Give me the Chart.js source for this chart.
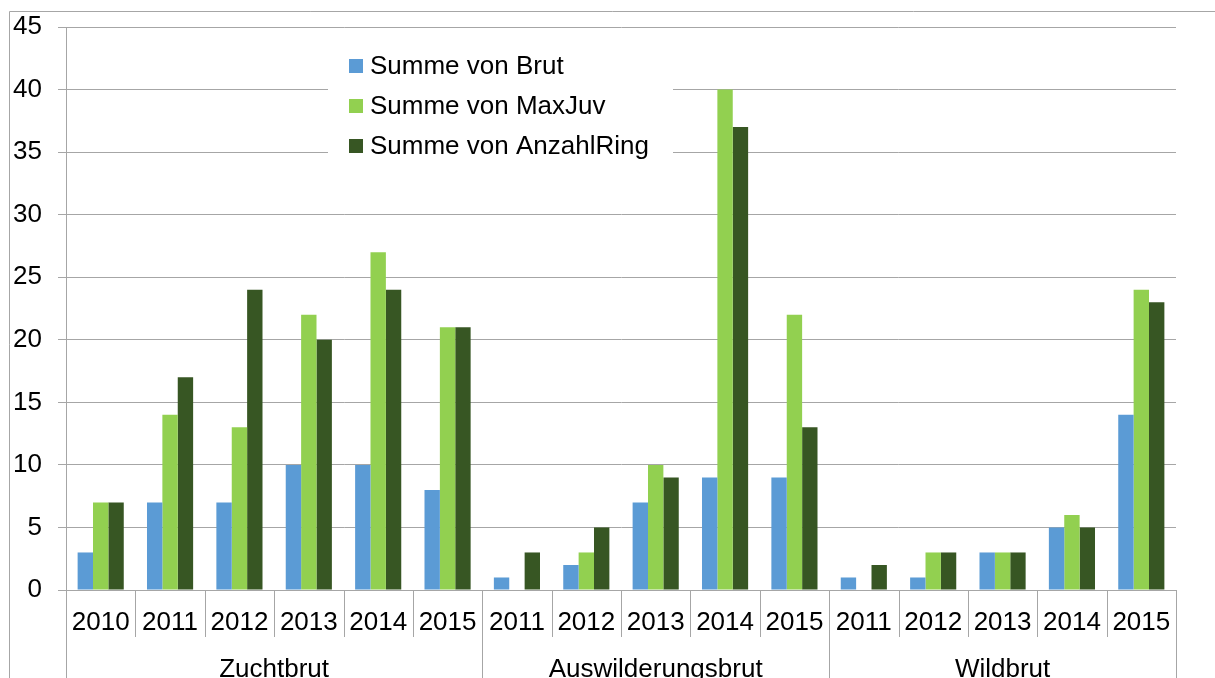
<!DOCTYPE html>
<html lang="de">
<head>
<meta charset="UTF-8">
<title>Brut</title>
<style>
  body { margin: 0; background: #fff; }
  #wrap { width: 1215px; height: 678px; }
</style>
</head>
<body>
<div id="wrap"><canvas id="brutChart"></canvas></div>
<script src="https://cdn.jsdelivr.net/npm/chart.js"></script>
<script>
// Daten
const groups = ['Zuchtbrut', 'Auswilderungsbrut', 'Wildbrut'];
const groupSizes = [6, 5, 5];
const years = ['2010', '2011', '2012', '2013', '2014', '2015',
               '2011', '2012', '2013', '2014', '2015',
               '2011', '2012', '2013', '2014', '2015'];
const brut       = [3, 7, 7, 10, 10, 8,   1, 2, 7, 9, 9,    1, 1, 3, 5, 14];
const maxJuv     = [7, 14, 13, 22, 27, 21, 0, 3, 10, 40, 22, 0, 3, 3, 6, 24];
const anzahlRing = [7, 17, 24, 20, 24, 21, 3, 5, 9, 37, 13, 2, 3, 3, 5, 23];

const grau = '#A6A6A6';
const schrift = 'Liberation Sans, Arial, sans-serif';

// Rahmen, Trennlinien der Achse, Gruppenbeschriftung und Legende
const extrasPlugin = {
    id: 'extras',
    beforeDraw(chart) {
        const ctx = chart.ctx;
        ctx.save();
        ctx.strokeStyle = grau;
        ctx.lineWidth = 1;
        ctx.beginPath();
        ctx.moveTo(9.5, chart.height);
        ctx.lineTo(9.5, 11.5);
        ctx.lineTo(chart.width, 11.5);
        ctx.stroke();
        ctx.restore();
    },
    afterDraw(chart) {
        const ctx = chart.ctx;
        const x = chart.scales.x;
        const area = chart.chartArea;
        ctx.save();
        ctx.strokeStyle = grau;
        ctx.lineWidth = 1;

        // kurze Trennlinien zwischen den Jahren
        for (let i = 0; i <= years.length; i++) {
            const px = Math.round(x.getPixelForValue(i - 0.5)) + 0.5;
            ctx.beginPath();
            ctx.moveTo(px, area.bottom);
            ctx.lineTo(px, area.bottom + 47);
            ctx.stroke();
        }

        // lange Trennlinien zwischen den Gruppen + Gruppennamen
        ctx.fillStyle = '#000';
        ctx.font = '26px ' + schrift;
        ctx.textAlign = 'center';
        ctx.textBaseline = 'alphabetic';
        let start = 0;
        groups.forEach((name, g) => {
            const end = start + groupSizes[g];
            [start, end].forEach(idx => {
                const px = Math.round(x.getPixelForValue(idx - 0.5)) + 0.5;
                ctx.beginPath();
                ctx.moveTo(px, area.bottom);
                ctx.lineTo(px, chart.height);
                ctx.stroke();
            });
            const mid = x.getPixelForValue((start + end - 1) / 2);
            ctx.fillText(name, mid, area.bottom + 87);
            start = end;
        });

        // Legende im Diagrammbereich
        const lx = area.left + 262;
        const ly = area.top + 13;
        ctx.fillStyle = '#fff';
        ctx.fillRect(lx, ly, 345, 125);
        ctx.textAlign = 'left';
        ctx.textBaseline = 'middle';
        chart.data.datasets.forEach((ds, i) => {
            const cy = ly + 26 + i * 40;
            ctx.fillStyle = ds.backgroundColor;
            ctx.fillRect(lx + 21, cy - 7, 14, 14);
            ctx.fillStyle = '#000';
            ctx.fillText(ds.label, lx + 42, cy + 1);
        });
        ctx.restore();
    }
};

const ctx = document.getElementById('brutChart').getContext('2d');
const brutChart = new Chart(ctx, {
    type: 'bar',
    data: {
        labels: years,
        datasets: [
            { label: 'Summe von Brut', data: brut, backgroundColor: '#5B9BD5' },
            { label: 'Summe von MaxJuv', data: maxJuv, backgroundColor: '#92D050' },
            { label: 'Summe von AnzahlRing', data: anzahlRing, backgroundColor: '#375623' }
        ]
    },
    options: {
        responsive: true,
        maintainAspectRatio: false,
        animation: false,
        layout: { padding: { top: 27, right: 39, left: 0, bottom: 0 } },
        datasets: { bar: { categoryPercentage: 0.665, barPercentage: 1.0 } },
        plugins: {
            legend: { display: false },
            tooltip: { enabled: false }
        },
        scales: {
            x: {
                grid: { display: false },
                border: { color: grau },
                ticks: {
                    color: '#000',
                    font: { family: schrift, size: 26 },
                    padding: 9,
                    maxRotation: 0,
                    autoSkip: false
                },
                afterFit(scale) { scale.height = 88; }
            },
            y: {
                min: 0,
                max: 45,
                ticks: {
                    stepSize: 5,
                    color: '#000',
                    // kleine Zeilenhöhe, damit das oberste Label den Plotbereich nicht nach unten schiebt
                    font: { family: schrift, size: 26, lineHeight: 0.8 },
                    padding: 16
                },
                grid: { color: grau, tickLength: 8 },
                border: { color: grau },
                afterFit(scale) { scale.width = 66; }
            }
        }
    },
    plugins: [extrasPlugin]
});
</script>
</body>
</html>
